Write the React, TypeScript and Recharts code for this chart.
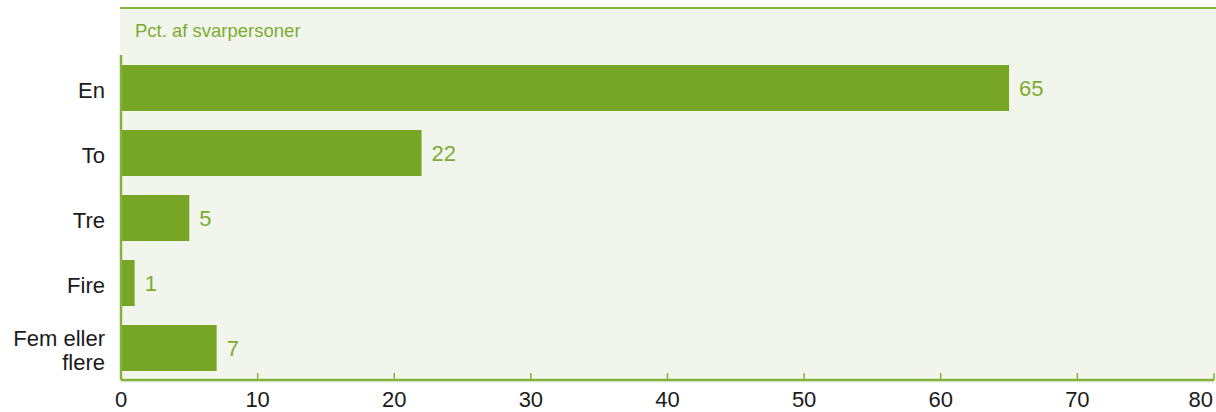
import { BarChart, Bar, XAxis, YAxis, LabelList } from 'recharts';

const categories = ['En', 'To', 'Tre', 'Fire', 'Fem eller flere'];
const values = [65, 22, 5, 1, 7];
const xTicks = [0, 10, 20, 30, 40, 50, 60, 70, 80];
const unitLabel = 'Pct. af svarpersoner';

const data = categories.map((name, i) => ({ name, value: values[i] }));

const GREEN = '#77a626';
const LINE = '#84b33d';
const TEXT_GREEN = '#7aad32';
const FONT = '"Liberation Sans", Arial, Helvetica, sans-serif';

function XTick({ x, y, payload }: any) {
  // the last label sits inside the chart edge
  const last = payload.value === xTicks[xTicks.length - 1];
  return (
    <g>
      <line x1={x} x2={x} y1={y} y2={y - 7} stroke={LINE} strokeWidth={1.5} />
      <text
        x={last ? x - 1 : x}
        y={y + 27}
        textAnchor={last ? 'end' : 'middle'}
        fill="#1a1a1a"
        fontSize={22}
        fontFamily={FONT}
      >
        {payload.value}
      </text>
    </g>
  );
}

function YTick({ x, y, payload }: any) {
  const label: string = payload.value;
  const lines = label === 'Fem eller flere' ? ['Fem eller', 'flere'] : [label];
  const lh = 24;
  const start = y + 10 - ((lines.length - 1) * lh) / 2;
  return (
    <text x={x - 16} y={start} textAnchor="end" fill="#1a1a1a" fontSize={22} fontFamily={FONT}>
      {lines.map((l, i) => (
        <tspan key={i} x={x - 16} y={start + i * lh}>
          {l}
        </tspan>
      ))}
    </text>
  );
}

export default function App() {
  return (
    <div style={{ position: 'absolute', left: 0, top: 0, width: 1216, height: 412, background: '#fff' }}>
      <div
        style={{
          position: 'absolute',
          left: 120,
          top: 7,
          width: 1096,
          height: 376,
          background: '#f2f5eb',
          borderTop: `2px solid ${LINE}`,
          boxSizing: 'border-box',
        }}
      />
      <div
        style={{
          position: 'absolute',
          left: 135,
          top: 20,
          color: TEXT_GREEN,
          fontSize: 18.5,
          fontFamily: FONT,
          lineHeight: '22px',
        }}
      >
        {unitLabel}
      </div>
      <div style={{ position: 'absolute', left: 0, top: 0 }}>
        <BarChart
          width={1216}
          height={412}
          data={data}
          layout="vertical"
          margin={{ top: 55, right: 2, bottom: 0, left: 0 }}
          barSize={46}
        >
          <XAxis
            type="number"
            domain={[0, 80]}
            ticks={xTicks}
            interval={0}
            height={32}
            axisLine={{ stroke: LINE, strokeWidth: 2.5 }}
            tickLine={false}
            tickSize={0}
            tickMargin={0}
            tick={<XTick />}
          />
          <YAxis
            type="category"
            dataKey="name"
            width={121}
            axisLine={{ stroke: LINE, strokeWidth: 2.5 }}
            tickLine={false}
            tickSize={0}
            tickMargin={0}
            tick={<YTick />}
            interval={0}
          />
          <Bar dataKey="value" fill={GREEN} isAnimationActive={false}>
            <LabelList
              dataKey="value"
              position="right"
              offset={10}
              fill={TEXT_GREEN}
              fontSize={22}
              fontFamily={FONT}
            />
          </Bar>
        </BarChart>
      </div>
    </div>
  );
}
